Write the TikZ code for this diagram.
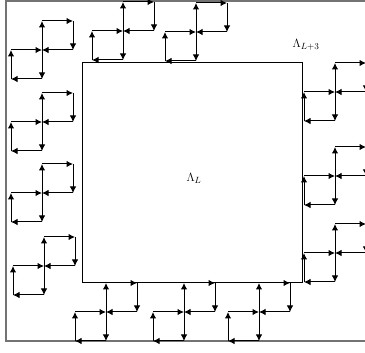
\documentclass[tikz,border=0pt]{standalone}
\usetikzlibrary{arrows.meta}
\tikzset{
  arr/.style={-{Latex[length=6.5pt,width=6.5pt]}, line width=1pt, black},
  framebox/.style={draw=black!55, line width=1.3pt},
  innerbox/.style={draw=black, line width=0.8pt},
  lab/.style={font=\fontsize{13}{15}\selectfont, inner sep=0pt},
  pinwheel/.pic={
    \coordinate (-c)  at (0,0);
    \coordinate (-n)  at (0,-29);
    \coordinate (-ne) at (31,-29);
    \coordinate (-e)  at (31,0);
    \coordinate (-s)  at (0,29);
    \coordinate (-sw) at (-31,29);
    \coordinate (-w)  at (-31,0);
    \draw[arr] (-c) -- (-n);
    \draw[arr] (-n) -- (-ne);
    \draw[arr] (-ne) -- (-e);
    \draw[arr] (-e) -- (-c);
    \draw[arr] (-c) -- (-s);
    \draw[arr] (-s) -- (-sw);
    \draw[arr] (-sw) -- (-w);
    \draw[arr] (-w) -- (-c);
  }
}
\begin{document}
\begin{tikzpicture}[x=1pt,y=-1pt]
\useasboundingbox (0,0) rectangle (365,353);
\clip (0,0) rectangle (365,353);
\fill[white] (0,0) rectangle (365,353);
% outer region Lambda_{L+3}
\draw[framebox] (400,1) -- (6,1) -- (6,341) -- (400,341);
% inner region Lambda_L
\draw[innerbox] (82,62) rectangle (302,282);
\node[lab] (LL) at (194,178) {$\Lambda_L$};
\node[lab] (LL3) at (306,45) {$\Lambda_{L+3}$};
% left side
\pic (l1) at (42,50) {pinwheel};
\pic (l2) at (42,122) {pinwheel};
\pic (l3) at (42,193) {pinwheel};
\pic (l4) at (44,266) {pinwheel};
% top side
\pic (t1) at (123,31) {pinwheel};
\pic (t2) at (196,32) {pinwheel};
% right side
\pic (r1) at (335,92) {pinwheel};
\pic (r2) at (335,176) {pinwheel};
\pic (r3) at (335,253) {pinwheel};
% bottom side
\pic (b1) at (106,312) {pinwheel};
\pic (b2) at (184,312) {pinwheel};
\pic (b3) at (259,312) {pinwheel};
\end{tikzpicture}
\end{document}
